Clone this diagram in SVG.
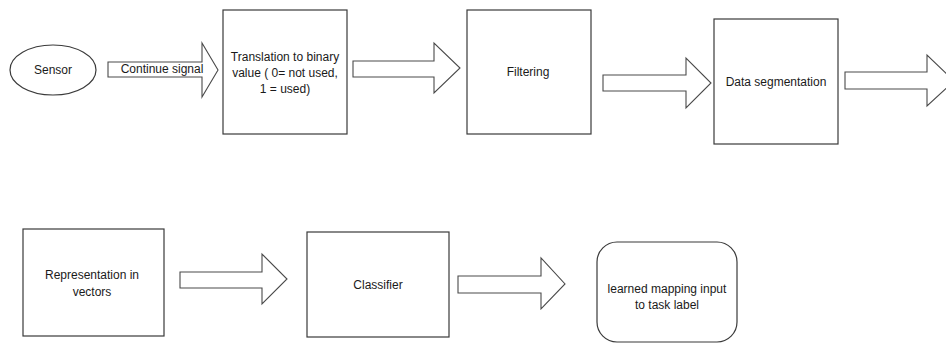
<svg xmlns="http://www.w3.org/2000/svg" width="946" height="345" viewBox="0 0 946 345">
  <style>
    .box { fill: #ffffff; stroke: #3a3a3a; stroke-width: 1.2; }
    .arrow { fill: #ffffff; stroke: #4a4a4a; stroke-width: 1.1; stroke-linejoin: miter; }
    .label { font-family: "Liberation Sans", Arial, Helvetica, sans-serif; font-size: 12px; fill: #1a1a1a; text-anchor: middle; }
  </style>
  <rect width="946" height="345" fill="#ffffff"/>

  <!-- block arrows between the stages -->
  <g id="connectors">
    <polygon class="arrow" points="108,62 202,62 202,43 218,70 202,97 202,77 108,77"/>
    <polygon class="arrow" points="353,61 434,61 434,43 460,68 434,93 434,77 353,77"/>
    <polygon class="arrow" points="603,75 686,75 686,58 711,83 686,108 686,91 603,91"/>
    <polygon class="arrow" points="845,72 927,72 927,55 954,81 927,106 927,89 845,89"/>
    <polygon class="arrow" points="180,272 262,272 262,254 287,279 262,304 262,288 180,288"/>
    <polygon class="arrow" points="458,276 541,276 541,258 565,284 541,309 541,293 458,293"/>
  </g>

  <g id="sensor">
    <ellipse class="box" cx="53" cy="70" rx="43" ry="25"/>
    <text class="label" x="53" y="74">Sensor</text>
  </g>
  <text class="label" x="162" y="73">Continue signal</text>

  <g id="translation">
    <rect class="box" x="223" y="10" width="124" height="124"/>
    <text class="label" x="285" y="61">Translation to binary</text>
    <text class="label" x="285" y="77">value ( 0= not used,</text>
    <text class="label" x="285" y="93">1 = used)</text>
  </g>

  <g id="filtering">
    <rect class="box" x="467" y="10" width="124" height="124"/>
    <text class="label" x="528" y="76">Filtering</text>
  </g>

  <g id="segmentation">
    <rect class="box" x="714" y="19" width="124" height="125"/>
    <text class="label" x="776" y="86">Data segmentation</text>
  </g>

  <g id="representation">
    <rect class="box" x="23" y="229" width="141" height="107"/>
    <text class="label" x="92" y="279">Representation in</text>
    <text class="label" x="92" y="296">vectors</text>
  </g>

  <g id="classifier">
    <rect class="box" x="307" y="232" width="142" height="105"/>
    <text class="label" x="378" y="289">Classifier</text>
  </g>

  <g id="mapping">
    <rect class="box" x="597" y="242" width="140" height="100" rx="20" ry="20"/>
    <text class="label" x="667" y="293">learned mapping input</text>
    <text class="label" x="667" y="309">to task label</text>
  </g>
</svg>
